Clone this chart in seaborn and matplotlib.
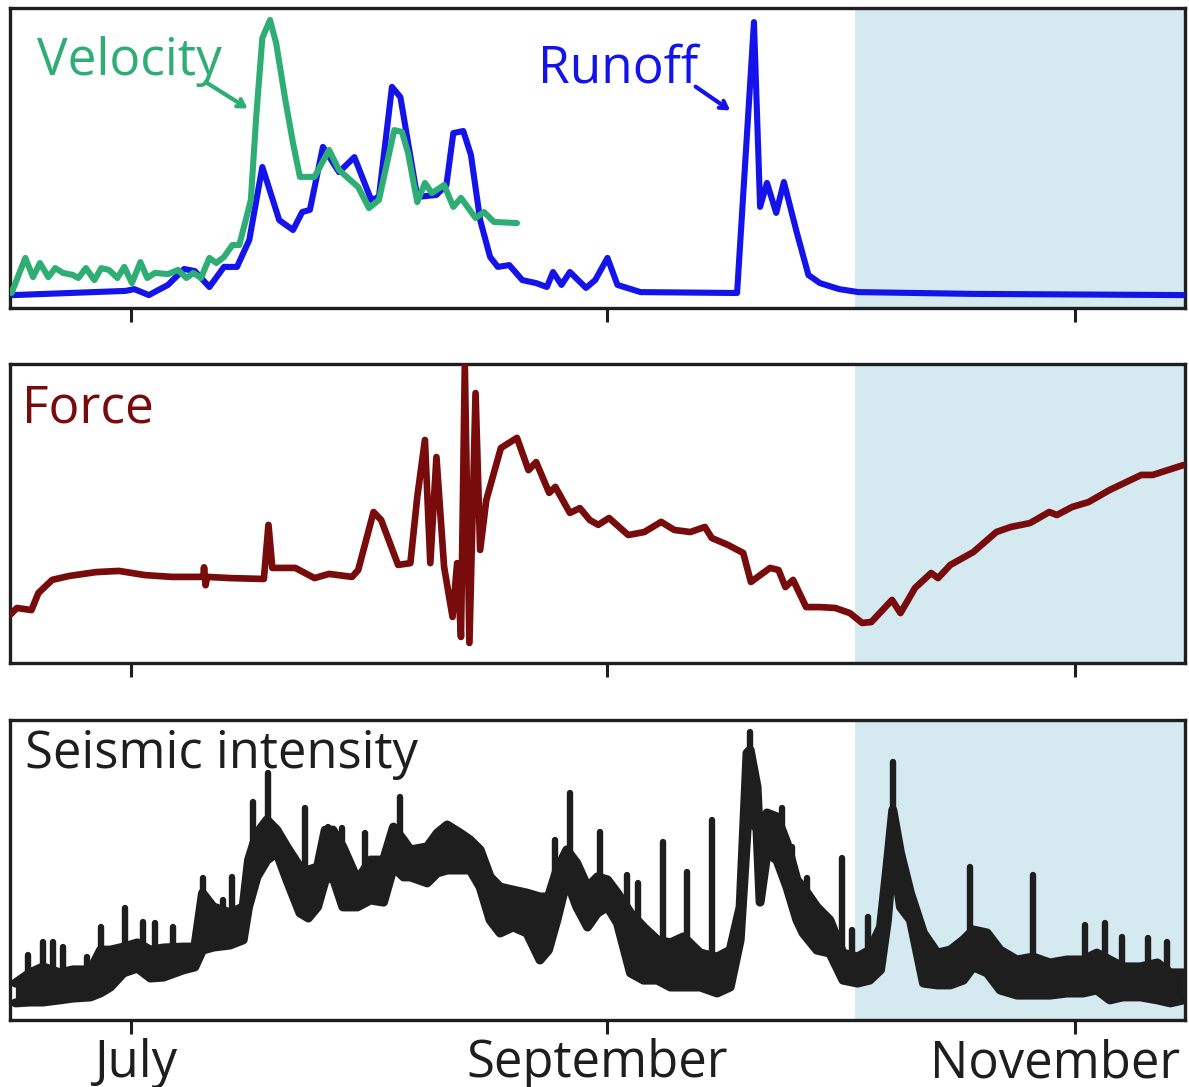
import numpy as np
import pandas as pd
import matplotlib
matplotlib.use("Agg")
import matplotlib.pyplot as plt
from matplotlib.transforms import ScaledTranslation
import seaborn as sns

# ---------------- data (x = days since 1 July) ----------------
runoff_day = [-15.4, -0.7, 0.4, 2.3, 4.8, 6.9, 8.3, 10.2, 12.1, 13.8, 15.4, 17.1, 19.3, 21.1,
              22.3, 23.3, 25.0, 27.1, 29.1, 31.3, 32.3, 34.0, 35.1, 37.3, 39.8, 41.1, 42.0,
              43.3, 44.3, 45.5, 46.8, 47.8, 49.3, 51.0, 52.8, 54.2, 55.0, 56.1, 57.2, 59.3,
              60.5, 62.1, 63.4, 66.4, 79.0, 81.2, 82.0, 82.9, 84.1, 85.1, 86.8, 88.3, 89.8,
              92.3, 94.8, 109.8, 137.7]
runoff_val = [4.3, 5.7, 6.3, 4.3, 7.7, 13.0, 12.3, 7.0, 13.7, 13.7, 22.7, 47.0, 29.3, 26.0,
              32.0, 32.7, 53.7, 45.3, 50.3, 36.0, 37.0, 73.7, 70.3, 37.0, 37.7, 41.0, 58.3,
              59.0, 51.0, 29.3, 17.0, 13.7, 14.3, 9.3, 8.3, 7.0, 12.0, 7.7, 12.0, 6.7,
              9.3, 16.7, 7.7, 5.3, 5.0, 95.3, 33.7, 41.7, 31.7, 42.0, 25.0, 11.0, 8.3,
              6.3, 5.3, 4.7, 4.3]

velocity_day = [-15.6, -13.8, -12.8, -11.9, -10.8, -9.9, -8.9, -7.6, -6.9, -5.9, -4.8, -3.9,
                -2.9, -1.8, -0.9, 0.1, 1.2, 2.1, 3.1, 4.8, 6.1, 7.2, 8.1, 9.1, 10.2, 11.1,
                12.1, 13.2, 14.1, 15.6, 16.3, 17.1, 18.1, 18.9, 20.1, 21.1, 22.0, 23.9,
                25.8, 27.1, 29.6, 31.0, 32.3, 34.3, 35.3, 36.1, 37.3, 38.3, 39.2, 40.8,
                42.0, 43.0, 44.9, 46.0, 47.3, 50.3]
velocity_val = [5.0, 16.7, 10.3, 15.0, 10.3, 13.3, 11.7, 11.0, 10.0, 13.3, 9.3, 13.3,
                12.7, 10.0, 13.7, 8.3, 15.3, 10.0, 11.7, 11.3, 12.7, 10.0, 11.7, 10.0, 16.7,
                15.0, 17.0, 21.0, 21.0, 36.0, 63.7, 90.0, 96.0, 88.3, 69.3, 55.0, 43.7, 43.7,
                52.7, 46.0, 40.3, 33.3, 36.0, 59.3, 58.7, 51.7, 35.3, 41.7, 38.3, 41.0,
                33.7, 36.7, 30.0, 32.0, 28.7, 28.3]

force_day = [-15.8, -14.9, -13.0, -12.1, -10.3, -8.1, -4.6, -1.6, 1.8, 5.3, 9.4, 9.5, 9.7,
             9.9, 12.9, 17.3, 17.9, 18.4, 21.4, 23.9, 25.8, 28.8, 29.6, 31.6, 32.6, 34.8,
             36.4, 37.3, 38.3, 39.0, 39.8, 40.8, 41.9, 42.5, 43.0, 43.5, 44.1, 44.9, 45.5,
             46.3, 48.2, 50.3, 51.8, 52.8, 54.5, 55.3, 57.2, 58.5, 59.8, 60.9, 62.3, 64.8,
             66.9, 69.1, 70.8, 72.9, 74.8, 75.7, 77.8, 79.8, 80.8, 81.7, 83.3, 84.4, 85.3,
             86.3, 88.0, 89.8, 91.8, 93.7, 95.3, 96.5, 99.2, 100.3, 102.2, 104.3, 105.2,
             106.8, 109.8, 112.8, 114.7, 117.2, 119.7, 120.7, 122.7, 124.8, 127.6, 131.7,
             133.2, 137.2]
force_val = [16.1, 18.4, 17.7, 23.4, 27.8, 29.1, 30.4, 30.8, 29.4, 28.8, 28.8, 32.0, 26.0,
             28.8, 28.4, 28.1, 46.2, 31.8, 31.8, 28.4, 29.8, 28.8, 31.1, 50.5, 47.8, 32.8,
             33.4, 55.5, 74.6, 33.4, 68.9, 32.1, 15.4, 33.4, 8.7, 99.7, 6.7, 90.3, 37.8,
             54.5, 71.9, 75.3, 64.5, 67.2, 56.9, 58.9, 50.2, 51.8, 47.8, 46.2, 48.5, 42.8,
             43.8, 47.2, 44.5, 43.8, 45.5, 41.8, 39.5, 36.8, 27.1, 28.8, 31.8, 31.1, 25.4,
             27.8, 18.7, 18.7, 18.4, 16.7, 13.4, 13.7, 21.1, 16.7, 25.1, 30.1, 28.4,
             32.8, 37.1, 43.8, 45.5, 46.8, 50.5, 49.5, 52.2, 53.8, 57.9, 62.9,
             62.9, 66.2]

seis_day = [-15.1, -13.2, -11.5, -9.3, -7.6, -5.3, -4.0, -2.7, -1.0, 0.8, 2.5, 4.2, 6.8, 8.3,
            9.3, 10.7, 12.9, 14.6, 15.3, 16.4, 17.7, 19.0, 20.3, 22.0, 23.1, 24.3, 25.3, 26.3,
            27.6, 29.5, 31.2, 32.9, 34.2, 35.5, 36.4, 38.6, 39.9, 41.2, 42.9, 44.2, 45.5,
            46.8, 48.1, 49.8, 51.6, 53.3, 54.4, 55.5, 56.8, 58.1, 59.5, 60.8, 62.1, 63.4,
            65.1, 66.8, 68.6, 70.3, 72.0, 74.2, 76.4, 78.1, 79.4, 80.3, 80.7, 81.6, 82.0,
            82.9, 84.2, 85.5, 86.8, 87.6, 89.4, 91.1, 92.8, 94.7, 96.3, 97.7, 98.6, 99.3,
            100.3, 101.6, 103.3, 105.1, 106.8, 108.5, 109.8, 111.6, 113.3, 115.5, 117.6,
            119.8, 122.0, 124.1, 125.9, 127.6, 129.3, 131.6, 133.8, 135.5, 137.2]
seis_lo = [5.7, 6.0, 6.0, 6.7, 7.3, 7.7, 9.0, 11.0, 15.7, 17.3, 14.0, 14.3, 16.7, 17.7,
           23.3, 24.3, 25.0, 26.7, 37.7, 47.7, 53.3, 55.7, 46.7, 35.7, 34.0, 37.7, 46.7, 47.7,
           37.7, 37.7, 40.0, 39.3, 51.0, 47.7, 47.7, 45.7, 49.0, 50.0, 50.0, 50.0, 44.3,
           33.3, 29.0, 31.0, 29.0, 20.0, 23.3, 33.3, 46.7, 37.7, 31.0, 35.7, 37.7, 32.3,
           15.7, 13.3, 13.3, 11.0, 11.0, 11.0, 9.0, 11.0, 26.7, 63.3, 70.0, 63.3, 39.3,
           55.7, 53.3, 44.3, 33.3, 29.0, 23.3, 22.3, 13.3, 12.3, 13.3, 16.7, 33.3, 55.0,
           37.7, 33.3, 12.3, 11.7, 11.7, 13.3, 17.7, 15.7, 10.0, 8.3, 8.3,
           8.3, 9.0, 9.0, 10.0, 6.7, 7.7, 7.7, 6.7, 5.7, 6.7]
seis_hi = [12.3, 15.7, 17.7, 15.7, 16.7, 16.7, 23.3, 23.3, 24.3, 25.7, 23.3, 24.0, 24.3, 24.3,
           42.3, 37.7, 35.7, 37.7, 53.3, 62.3, 66.7, 63.3, 57.7, 51.0, 50.0, 51.0, 63.3, 63.3,
           57.7, 46.7, 53.3, 53.3, 64.3, 60.0, 56.7, 57.7, 62.3, 65.0, 62.3, 60.0, 56.7,
           47.7, 44.3, 43.3, 42.3, 41.0, 41.0, 50.0, 56.7, 52.3, 44.3, 47.7, 46.7, 42.3,
           35.7, 31.0, 26.7, 25.7, 27.7, 22.3, 21.0, 23.3, 37.7, 89.0, 90.0, 77.7, 55.7,
           69.0, 67.7, 59.0, 46.7, 44.3, 37.7, 33.3, 22.3, 21.0, 23.3, 31.0, 52.3, 70.0,
           55.7, 42.3, 29.0, 22.3, 23.3, 26.7, 30.0, 29.0, 23.3, 20.0, 21.0,
           19.0, 20.0, 20.0, 22.3, 20.0, 17.7, 17.7, 19.0, 15.7, 15.7]
spike_day = [-13.4, -11.5, -10.2, -8.9, -5.7, -4.0, -0.8, 1.6, 3.1, 5.5, 9.3, 12.0, 13.2,
             15.9, 17.9, 22.7, 25.7, 27.5, 30.5, 35.1, 55.3, 57.2, 61.1, 64.7, 66.1, 69.4,
             72.5, 75.7, 80.7, 84.9, 86.2, 88.1, 92.7, 94.0, 96.1, 99.3, 109.4, 117.6,
             124.4, 127.0, 129.2, 132.6, 135.1]
spike_top = [21.7, 26.0, 26.0, 24.3, 21.0, 31.0, 37.3, 32.7, 32.3, 31.0, 47.3, 40.0, 47.7,
             72.7, 82.3, 70.7, 64.3, 64.0, 62.3, 74.3, 60.0, 75.7, 62.7, 48.3, 45.7, 59.3,
             49.3, 66.7, 96.0, 70.7, 57.7, 47.3, 54.0, 30.0, 34.3, 86.0, 51.0, 48.3,
             31.7, 32.3, 27.7, 27.3, 26.0]

tick_days = [0, 62, 123]
tick_labels = ["July", "September", "November"]
x_range = [-15.8, 137.4]
shade_start = 94.4

# ---------------- style ----------------
sns.set_style("white")
plt.rcParams["font.family"] = ["Open Sans", "DejaVu Sans"]

GREEN = "#2eae74"
BLUE = "#1414ea"
RED = "#780b0b"
BLACK = "#1e1e1e"
SHADE = "#d5e9f1"
LW = 4.4

W, H = 1189, 1087
fig = plt.figure(figsize=(W / 100, H / 100), dpi=100)

def add_ax(top_px, bot_px):
    return fig.add_axes([10 / W, 1 - bot_px / H, 1175 / W, (bot_px - top_px) / H])

ax1 = add_ax(8, 308)
ax2 = add_ax(364, 663)
ax3 = add_ax(720, 1020)

for ax in (ax1, ax2, ax3):
    ax.axvspan(shade_start, x_range[1] + 5, color=SHADE, lw=0, zorder=0)
    ax.set_xlim(*x_range)
    ax.set_ylim(0, 100)
    ax.set_yticks([])
    ax.set_xticks(tick_days)
    ax.tick_params(axis="x", direction="out", length=10, width=2.2, color=BLACK,
                   bottom=True, labelsize=36.5, labelcolor=BLACK, pad=3)
    for s in ax.spines.values():
        s.set_linewidth(2.4)
        s.set_color(BLACK)

# top panel
df_r = pd.DataFrame({"day": runoff_day, "val": runoff_val})
df_v = pd.DataFrame({"day": velocity_day, "val": velocity_val})
sns.lineplot(data=df_r, x="day", y="val", ax=ax1, color=BLUE, lw=LW, estimator=None,
             solid_joinstyle="round", solid_capstyle="round", zorder=3)
sns.lineplot(data=df_v, x="day", y="val", ax=ax1, color=GREEN, lw=LW, estimator=None,
             solid_joinstyle="round", solid_capstyle="round", zorder=4)
ax1.text(-12.3, 77.7, "Velocity", color=GREEN, fontsize=37, va="baseline", ha="left")
ax1.text(53.0, 75.3, "Runoff", color=BLUE, fontsize=37, va="baseline", ha="left")
ax1.annotate("", xy=(15.5, 66), xytext=(9.4, 75.8),
             arrowprops=dict(arrowstyle="->,head_length=0.5,head_width=0.3", color=GREEN, lw=3))
ax1.annotate("", xy=(78.4, 65.3), xytext=(73.3, 74.3),
             arrowprops=dict(arrowstyle="->,head_length=0.5,head_width=0.3", color=BLUE, lw=3))

# middle panel
df_f = pd.DataFrame({"day": force_day, "val": force_val})
sns.lineplot(data=df_f, x="day", y="val", ax=ax2, color=RED, lw=LW + 0.4, estimator=None,
             solid_joinstyle="round", solid_capstyle="round", zorder=3)
ax2.text(-14.3, 80.6, "Force", color=RED, fontsize=37, va="baseline", ha="left")

# bottom panel
df_s = pd.DataFrame({"day": seis_day, "lo": seis_lo, "hi": seis_hi})
ax3.fill_between(df_s["day"], df_s["lo"], df_s["hi"], color=BLACK, lw=0, zorder=3)
sns.lineplot(data=df_s, x="day", y="lo", ax=ax3, color=BLACK, lw=6.5, estimator=None,
             solid_joinstyle="round", zorder=3)
sns.lineplot(data=df_s, x="day", y="hi", ax=ax3, color=BLACK, lw=6.5, estimator=None,
             solid_joinstyle="round", zorder=3)
spike_base = np.interp(spike_day, seis_day, seis_lo)
ax3.vlines(spike_day, spike_base, spike_top, color=BLACK, lw=4.6, zorder=3,
           capstyle="round")
ax3.text(-13.9, 84.0, "Seismic intensity", color=BLACK, fontsize=36.5, va="baseline", ha="left")

for ax in (ax1, ax2, ax3):
    ax.set_xlabel("")
    ax.set_ylabel("")
ax1.set_xticklabels([])
ax2.set_xticklabels([])
ax3.set_xticklabels(tick_labels)
# hand-placed label offsets as in the reference (pixels)
label_shift = [4, -10, -19]
for lab, dx in zip(ax3.get_xticklabels(), label_shift):
    lab.set_transform(lab.get_transform() + ScaledTranslation(dx / 100, 0, fig.dpi_scale_trans))

fig.savefig("out.png", dpi=100)
